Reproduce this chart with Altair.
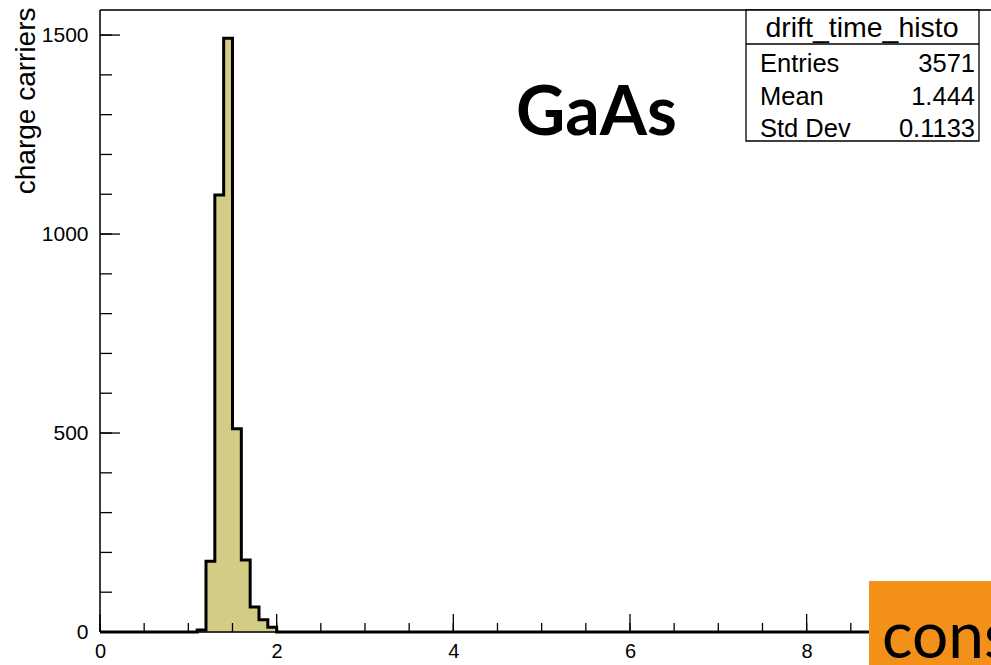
import altair as alt
import pandas as pd

# ---- data ----
bin_width = 0.1
n_bins = 100
first_filled_bin = 11  # bin starting at 1.1
filled_counts = [5, 178, 1098, 1492, 511, 181, 63, 31, 12]

x_labels = [0, 2, 4, 6, 8]
x_major = [0, 2, 4, 6, 8, 10]
x_minor = [i * 0.5 for i in range(21)]
y_major = [0, 500, 1000, 1500]
y_minor = [i * 100 for i in range(16)]

stats_labels = ["Entries", "Mean", "Std Dev"]
stats_values = ["3571", "1.444", "0.1133"]
stats_title = "drift_time_histo"

# build step table
counts = [0] * n_bins
for i, c in enumerate(filled_counts):
    counts[first_filled_bin + i] = c
edges = [round(i * bin_width, 3) for i in range(n_bins + 1)]
hist = pd.DataFrame({"x": edges, "y": counts + [0]})

W, H = 891, 622
XMAX = 891 / 88.33
YMAX = 1563

FONT = "Liberation Sans"
xs = alt.Scale(domain=[0, XMAX], nice=False, zero=False)
ys = alt.Scale(domain=[0, YMAX], nice=False, zero=False)

area = alt.Chart(hist).mark_area(interpolate="step-after", color="#d3cc85").encode(
    x=alt.X("x:Q", scale=xs, title=None,
            axis=alt.Axis(values=x_labels, format="d", ticks=False, domain=False, grid=False,
                          labelFont=FONT, labelFontSize=20, labelColor="black",
                          labelPadding=9, labelFlush=False)),
    y=alt.Y("y:Q", scale=ys,
            axis=alt.Axis(values=y_major, format="d", ticks=False, domain=False, grid=False,
                          labelFont=FONT, labelFontSize=21, labelColor="black",
                          labelPadding=12, title="charge carriers",
                          titleFont=FONT, titleFontSize=28, titleFontWeight="normal",
                          titleColor="black", titleAngle=270, titleAlign="right",
                          titleBaseline="alphabetic", titleX=-66, titleY=-3)),
)
line = alt.Chart(hist).mark_line(interpolate="step-after", color="black", strokeWidth=3).encode(
    x=alt.X("x:Q", scale=xs), y=alt.Y("y:Q", scale=ys)
)

ytick_major = alt.Chart(pd.DataFrame({"v": y_major})).mark_rule(color="black", strokeWidth=1.3).encode(
    y=alt.Y("v:Q", scale=ys), x=alt.value(0), x2=alt.value(20))
ytick_minor = alt.Chart(pd.DataFrame({"v": y_minor})).mark_rule(color="black", strokeWidth=1.3).encode(
    y=alt.Y("v:Q", scale=ys), x=alt.value(0), x2=alt.value(12))
xtick_major = alt.Chart(pd.DataFrame({"v": x_major})).mark_rule(color="black", strokeWidth=1.3).encode(
    x=alt.X("v:Q", scale=xs), y=alt.value(H), y2=alt.value(H - 18))
xtick_minor = alt.Chart(pd.DataFrame({"v": x_minor})).mark_rule(color="black", strokeWidth=1.3).encode(
    x=alt.X("v:Q", scale=xs), y=alt.value(H), y2=alt.value(H - 9))

# frame
frame_top = alt.Chart(pd.DataFrame({"a": [0]})).mark_rule(color="black", strokeWidth=1.5).encode(
    x=alt.value(0), x2=alt.value(W), y=alt.value(0))
frame_left = alt.Chart(pd.DataFrame({"a": [0]})).mark_rule(color="black", strokeWidth=1.5).encode(
    x=alt.value(0), y=alt.value(0), y2=alt.value(H))
frame_bottom = alt.Chart(pd.DataFrame({"a": [0]})).mark_rule(color="black", strokeWidth=1.5).encode(
    x=alt.value(0), x2=alt.value(W), y=alt.value(H))

gaas = alt.Chart(pd.DataFrame({"t": ["GaAs"]})).mark_text(
    font="Lato", fontSize=68, fontWeight="bold", align="left", baseline="alphabetic", color="black"
).encode(text="t:N", x=alt.value(416), y=alt.value(125))

# stats box
box = alt.Chart(pd.DataFrame({"a": [0]})).mark_rect(fill="white", stroke="black", strokeWidth=1.3).encode(
    x=alt.value(646), x2=alt.value(879), y=alt.value(0), y2=alt.value(131))
box_line = alt.Chart(pd.DataFrame({"a": [0]})).mark_rule(color="black", strokeWidth=1.3).encode(
    x=alt.value(646), x2=alt.value(879), y=alt.value(34))
box_title = alt.Chart(pd.DataFrame({"t": [stats_title]})).mark_text(
    font=FONT, fontSize=28.5, align="center", baseline="alphabetic", color="black"
).encode(text="t:N", x=alt.value(762), y=alt.value(27))

row_layers = []
row_baselines = [62, 95, 127]
for lab, val, yb in zip(stats_labels, stats_values, row_baselines):
    df = pd.DataFrame({"label": [lab], "value": [val]})
    row_layers.append(alt.Chart(df).mark_text(
        font=FONT, fontSize=25.5, align="left", baseline="alphabetic", color="black"
    ).encode(text="label:N", x=alt.value(660), y=alt.value(yb)))
    row_layers.append(alt.Chart(df).mark_text(
        font=FONT, fontSize=25.5, align="right", baseline="alphabetic", color="black"
    ).encode(text="value:N", x=alt.value(875), y=alt.value(yb)))

# orange overlay
orange = alt.Chart(pd.DataFrame({"a": [0]})).mark_rect(fill="#f3901a").encode(
    x=alt.value(769), x2=alt.value(900), y=alt.value(571), y2=alt.value(670))
cons = alt.Chart(pd.DataFrame({"t": ["cons"]})).mark_text(
    font="Lato", fontSize=64, align="left", baseline="alphabetic", color="black"
).encode(text="t:N", x=alt.value(782), y=alt.value(648))

chart = alt.layer(
    area, line, ytick_minor, ytick_major, xtick_minor, xtick_major,
    frame_top, frame_left, frame_bottom, gaas,
    box, box_line, box_title, *row_layers, orange, cons
).properties(
    width=W, height=H,
    padding={"left": 100, "top": 10, "right": 0, "bottom": 33},
    autosize=alt.AutoSizeParams(type="none"),
).configure_view(stroke=None).configure(background="white")

chart.save("out.html", embed_options={"renderer": "svg", "actions": False})
